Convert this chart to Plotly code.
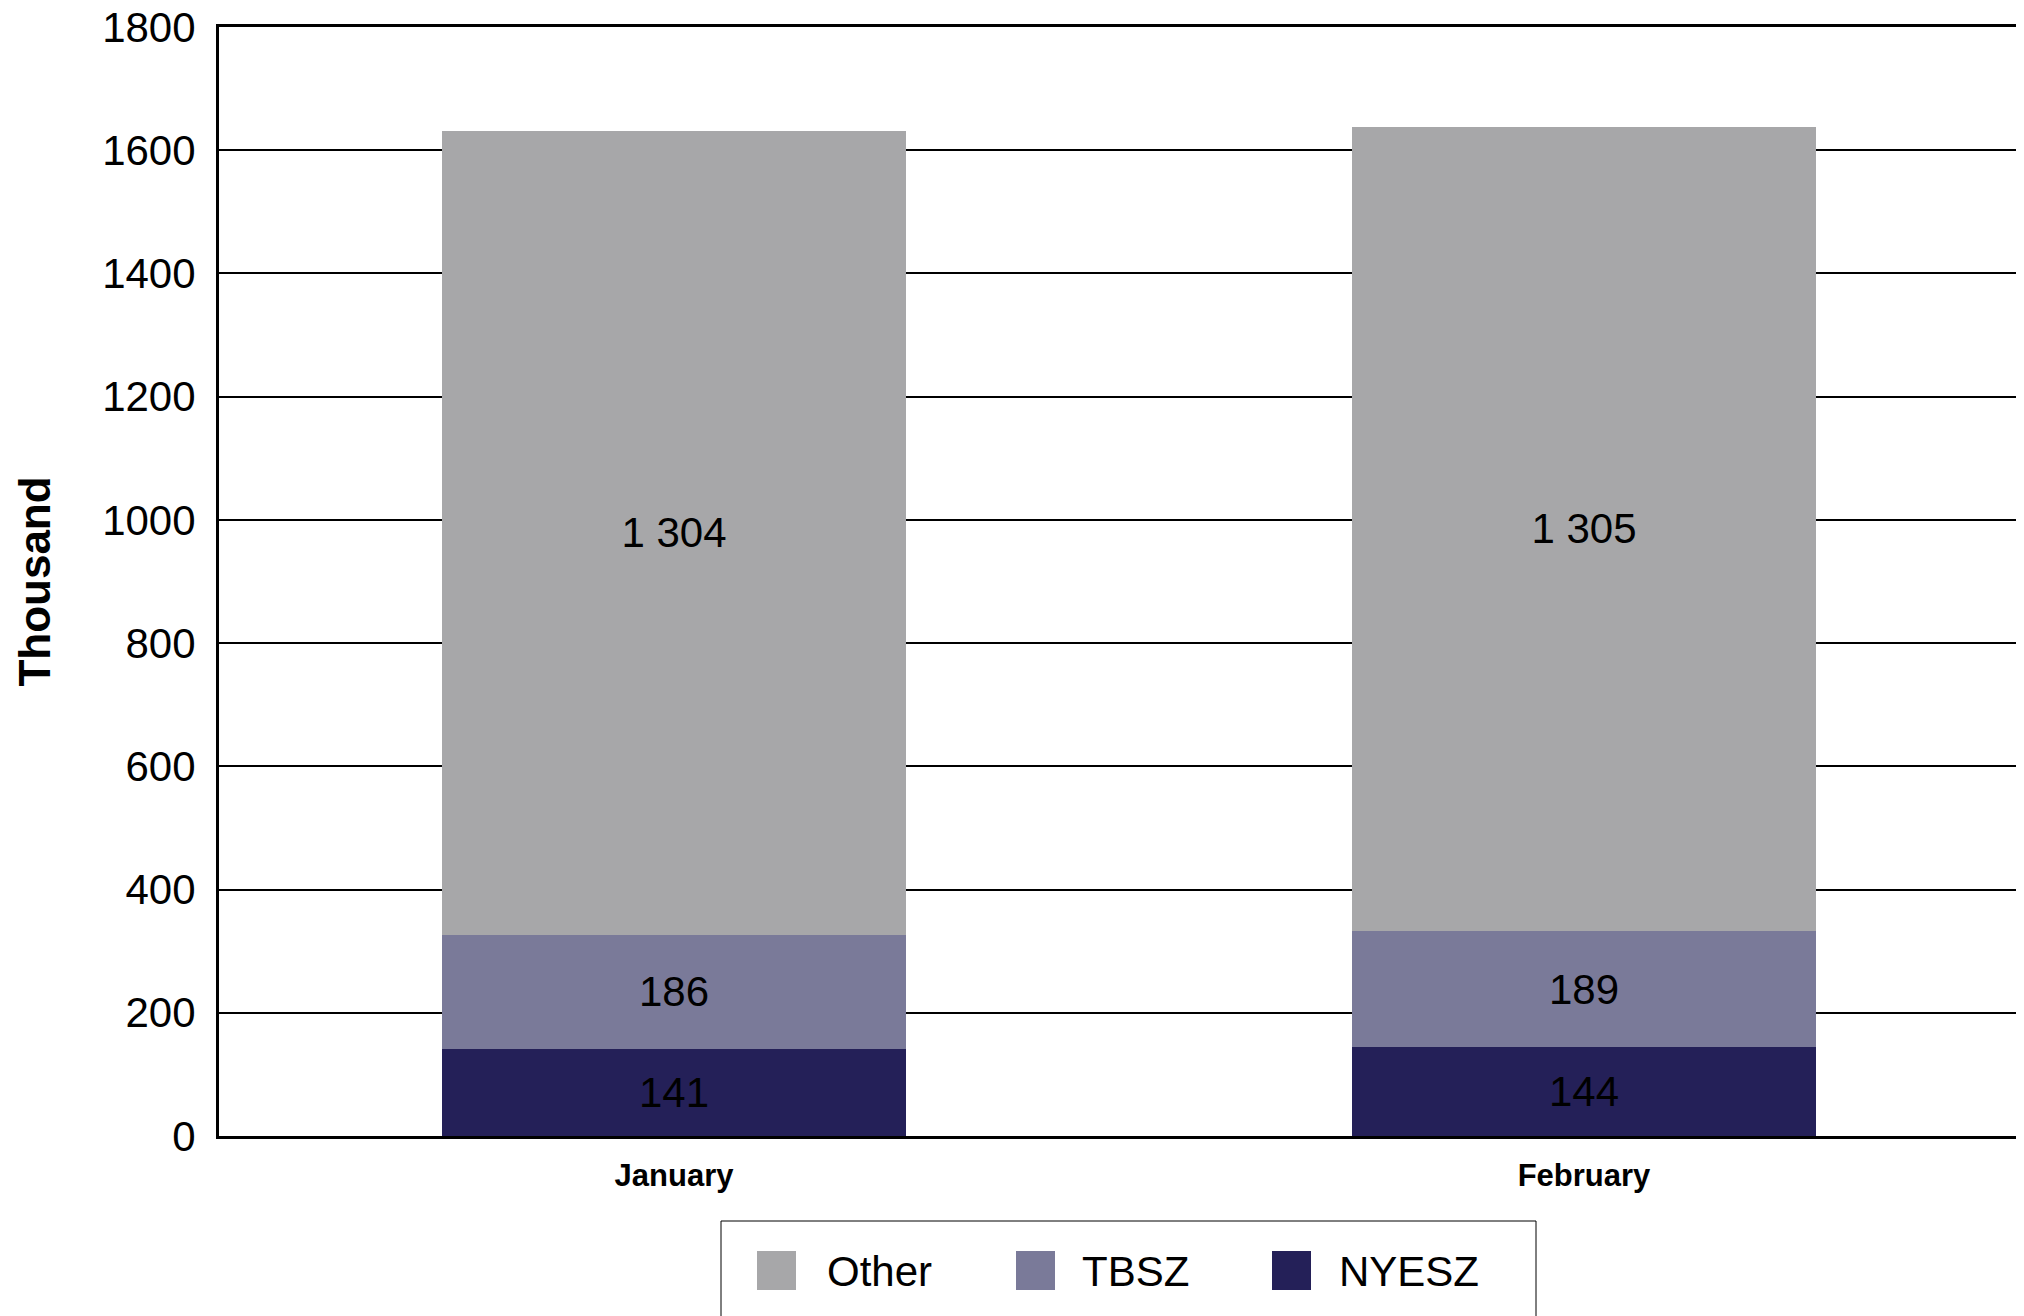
import plotly.graph_objects as go

months = ["January", "February"]
other = [1304, 1305]
tbsz = [186, 189]
nyesz = [141, 144]

series = [("NYESZ", nyesz, "#242058"), ("TBSZ", tbsz, "#7a7a99"), ("Other", other, "#a7a7a9")]
font = "Liberation Sans, Arial, Helvetica, sans-serif"

W, H = 2024, 1316
OFF = 7  # page body margin
L, R, T, B = 218 - OFF, OFF, 26 - OFF, 1316 - 1135 + OFF


def px(x, y):
    # page pixel -> paper coords
    x, y = x - OFF, y - OFF
    return (x - L) / (W - L - R), (H - B - y) / (H - T - B)


fig = go.Figure()
for name, vals, col in series:
    fig.add_trace(go.Bar(
        x=months, y=vals, name=name,
        marker=dict(color=col, line=dict(width=0)),
        width=0.51,
        texttemplate="%{y:,.0f}",
        textposition="inside",
        insidetextanchor="middle",
        textfont=dict(color="black", size=42, family=font),
        constraintext="none",
    ))

# legend drawn by hand so the swatches can be big
x0, y0 = px(720, 1220)
x1, y1 = px(1535, 1340)
fig.add_shape(type="rect", xref="paper", yref="paper", x0=x0, y0=y0, x1=x1, y1=y1,
              line=dict(color="black", width=1), fillcolor="white", layer="above")
legend_items = [("Other", "#a7a7a9", 756, 824), ("TBSZ", "#7a7a99", 1015, 1079), ("NYESZ", "#242058", 1271, 1336)]
for name, col, sx, tx in legend_items:
    a0, b0 = px(sx, 1250)
    a1, b1 = px(sx + 39, 1289)
    fig.add_shape(type="rect", xref="paper", yref="paper", x0=a0, y0=b0, x1=a1, y1=b1,
                  line=dict(width=0), fillcolor=col, layer="above")
    ax, ay = px(tx, 1270)
    fig.add_annotation(x=ax, y=ay, xref="paper", yref="paper", text=name, showarrow=False,
                       xanchor="left", yanchor="middle",
                       font=dict(size=42, color="black", family=font))

fig.update_layout(
    barmode="stack",
    width=W, height=H,
    margin=dict(l=L, r=R, t=T, b=B),
    plot_bgcolor="white", paper_bgcolor="white",
    showlegend=False,
    separators=". ",
    font=dict(family=font, color="black"),
    xaxis=dict(
        range=[-0.5, 1.4846], automargin=False,
        showgrid=False,
        showline=True, linecolor="black", linewidth=3, mirror=True,
        tickfont=dict(size=31, weight="bold", family=font),
        ticks="", ticklabelstandoff=10,
    ),
    yaxis=dict(
        range=[0, 1800], dtick=200, automargin=False,
        showgrid=True, gridcolor="black", gridwidth=2,
        showline=True, linecolor="black", linewidth=3,
        zeroline=False,
        tickfont=dict(size=42, family=font),
        ticks="", ticklabelstandoff=12, ticklabeloverflow="allow",
        title=dict(text="Thousand", font=dict(size=44, weight="bold", family=font), standoff=38),
    ),
)

fig.write_html("out.html")
